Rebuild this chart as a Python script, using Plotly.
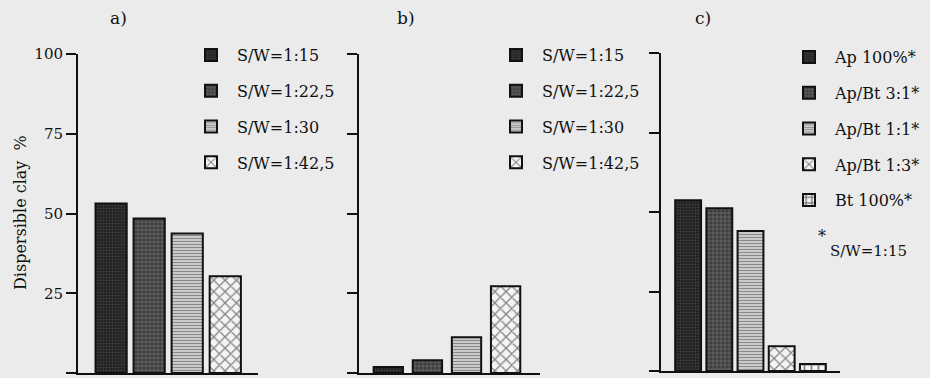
import plotly.graph_objects as go

# ---- data ----
sw_labels = ["S/W=1:15", "S/W=1:22,5", "S/W=1:30", "S/W=1:42,5"]
panel_a = [53.1, 48.4, 43.7, 30.3]
panel_b = [1.9, 4.0, 11.2, 27.2]
mix_labels = ["Ap 100%*", "Ap/Bt 3:1*", "Ap/Bt 1:1*", "Ap/Bt 1:3*", "Bt 100%*"]
panel_c = [53.7, 51.2, 44.0, 7.8, 2.2]
y_ticks = [0, 25, 50, 75, 100]

W, H = 930, 378
def px(x):
    return x / W
def py(y):
    return 1 - y / H

FONT = "DejaVu Serif"

styles = [
    dict(color="#222222", pattern=dict(shape="+", fgcolor="#707070", size=3, solidity=0.25)),
    dict(color="#5a5a5a", pattern=dict(shape=".", fgcolor="#1e1e1e", size=4, solidity=0.5)),
    dict(color="#d8d8d8", pattern=dict(shape="-", fgcolor="#3a3a3a", size=3, solidity=0.45)),
    dict(color="#f4f4f4", pattern=dict(shape="x", fgcolor="#111111", size=8, solidity=0.3)),
    dict(color="#f4f4f4", pattern=dict(shape="+", fgcolor="#111111", size=7, solidity=0.45)),
]

fig = go.Figure()

panels = [
    (sw_labels, panel_a, "x", "y", "legend", 0.82),
    (sw_labels, panel_b, "x2", "y2", "legend2", 0.75),
    (mix_labels, panel_c, "x3", "y3", "legend3", 0.83),
]
for labels, vals, xa, ya, lg, wdt in panels:
    for i, (lab, v) in enumerate(zip(labels, vals)):
        st = styles[i]
        fig.add_trace(go.Bar(
            x=[i], y=[v], name=lab, width=wdt,
            xaxis=xa, yaxis=ya, legend=lg, legendgroup=f"{lg}_{i}",
            marker=dict(color=st["color"], pattern=st["pattern"],
                        line=dict(color="#111111", width=2)),
            hoverinfo="skip",
        ))

axis_common_x = dict(showgrid=False, zeroline=False, showticklabels=False, ticks="",
                     showline=True, linecolor="#111111", linewidth=2, fixedrange=True)
axis_common_y = dict(showgrid=False, zeroline=False, range=[0, 100], tickvals=y_ticks,
                     ticks="outside", ticklen=10, tickwidth=2, tickcolor="#111111",
                     showline=True, linecolor="#111111", linewidth=2, fixedrange=True,
                     tickfont=dict(family=FONT, size=15, color="#111111"))

legend_common = dict(bgcolor="rgba(0,0,0,0)", font=dict(family=FONT, size=16, color="#111111"),
                     tracegroupgap=12, itemwidth=42, yanchor="top", xanchor="left",
                     itemclick=False, itemdoubleclick=False)

fig.update_layout(
    width=W, height=H,
    margin=dict(l=0, r=0, t=0, b=0, autoexpand=False),
    paper_bgcolor="#ebebeb", plot_bgcolor="rgba(0,0,0,0)",
    barmode="overlay",
    xaxis=dict(domain=[px(78), px(258)], range=[-0.87, 3.86], anchor="y", **axis_common_x),
    yaxis=dict(domain=[py(373), py(54)], anchor="x", showticklabels=True, **axis_common_y),
    xaxis2=dict(domain=[px(359), px(540)], range=[-0.75, 3.88], anchor="y2", **axis_common_x),
    yaxis2=dict(domain=[py(373), py(54)], anchor="x2", showticklabels=False, **axis_common_y),
    xaxis3=dict(domain=[px(661), px(840)], range=[-0.87, 4.87], anchor="y3", **axis_common_x),
    yaxis3=dict(domain=[py(371), py(53)], anchor="x3", showticklabels=False, **axis_common_y),
    legend=dict(x=px(185), y=py(38), **legend_common),
    legend2=dict(x=px(490), y=py(38), **legend_common),
    legend3=dict(x=px(783), y=py(40), **legend_common),
    showlegend=True,
)

ann_font = dict(family=FONT, size=17, color="#111111")
fig.add_annotation(x=px(20), y=py(213), xref="paper", yref="paper", text="Dispersible clay  %",
                   textangle=-90, showarrow=False, xanchor="center", yanchor="middle",
                   font=dict(family=FONT, size=16, color="#111111"))
for txt, xx in [("a)", 118), ("b)", 406), ("c)", 703)]:
    fig.add_annotation(x=px(xx), y=py(18), xref="paper", yref="paper", text=txt,
                       showarrow=False, xanchor="center", yanchor="middle", font=ann_font)
fig.add_annotation(x=px(822), y=py(236), xref="paper", yref="paper", text="*",
                   showarrow=False, xanchor="center", yanchor="middle",
                   font=dict(family=FONT, size=16, color="#111111"))
fig.add_annotation(x=px(828), y=py(251), xref="paper", yref="paper", text="S/W=1:15",
                   xanchor="left", yanchor="middle", showarrow=False,
                   font=dict(family=FONT, size=15, color="#111111"))

fig.write_html("out.html", config={"displayModeBar": False, "staticPlot": True},
               post_script="document.body.style.margin='0';document.body.style.overflow='hidden';")
